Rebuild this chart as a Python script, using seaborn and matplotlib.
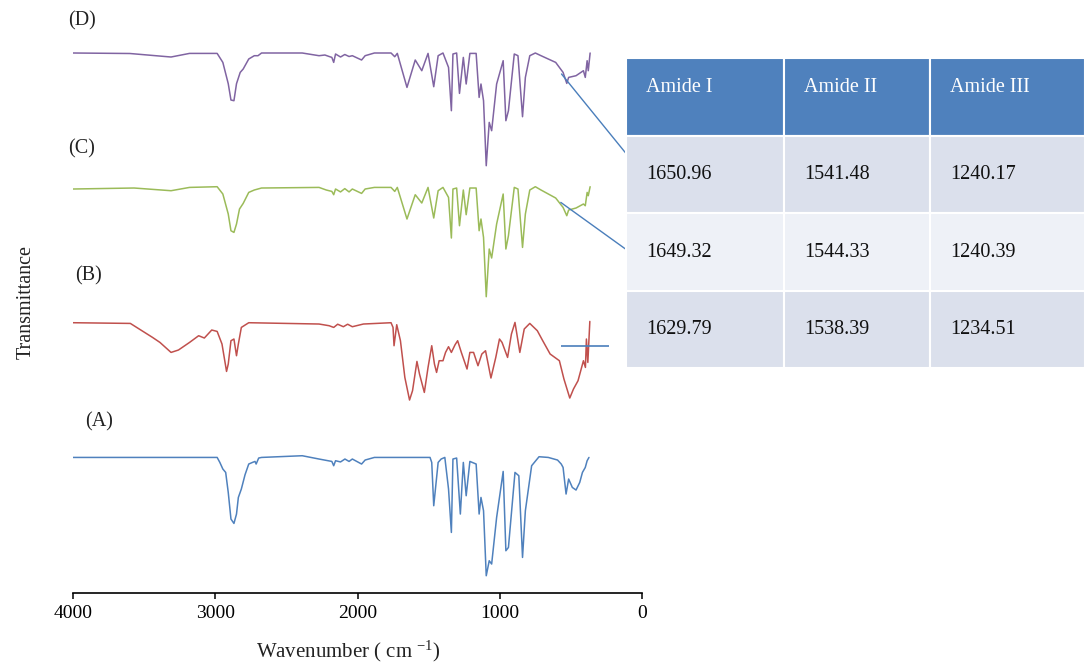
import numpy as np
import matplotlib.pyplot as plt
import seaborn as sns

# FTIR spectra, wavenumber (cm-1) and transmittance (a.u., baseline ~150)
wn_d = [4000, 3600, 3337, 3311, 3181, 2987, 2947, 2909, 2890, 2869, 2851, 2825, 2804, 2765, 2726,
        2700, 2675, 2389, 2271, 2230, 2200, 2181, 2168, 2155, 2120, 2090, 2060, 2037, 1972, 1947,
        1882, 1765, 1739, 1721, 1653,
        1595, 1549, 1505, 1465, 1434, 1400, 1361, 1341, 1330, 1304, 1284, 1257, 1237, 1211, 1167,
        1146, 1133, 1115, 1096, 1075, 1058, 1023, 977, 958, 940, 899, 873, 841, 821, 790,
        751, 711, 608, 556, 530, 517, 465, 413, 400, 387, 379, 366]
t_d = [150, 149.5, 146.3, 146, 149.6, 149.6, 140.6, 119.3, 103, 102.3, 119.3, 130.6, 134, 144, 147.3,
       147.3, 150, 150, 147.3, 148, 146.5, 145.6, 140.6, 149, 146, 148.5, 146.5, 147.3, 143, 147.3,
       150, 150, 146.3, 149.6, 115.6,
       143, 132.3, 149.6, 116.3, 147.3, 150, 135.6, 92.3, 149, 150, 109.6, 145.6, 119, 149.6, 149.6,
       105.6, 119, 102.3, 37.3, 80.6, 72.3, 119, 142.3, 82.3, 92.3, 149, 147.3, 86.3, 125.6, 147.3,
       150, 147.3, 140.6, 130.6, 119.6, 125.6, 127.3, 132.3, 125.6, 142.3, 132.3, 150]

wn_c = [4000, 3571, 3311, 3181, 2987, 2947, 2909, 2890, 2869, 2851, 2830, 2804, 2765, 2726, 2675,
        2271, 2220, 2181, 2168, 2155, 2120, 2090, 2060, 2037, 1972, 1947, 1882, 1765, 1739, 1721,
        1653, 1595, 1549,
        1505, 1465, 1434, 1400, 1361, 1341, 1330, 1304, 1284, 1257, 1237, 1211, 1167, 1146, 1133,
        1115, 1096, 1075, 1058, 1023, 977, 958, 940, 899, 873, 841, 821, 790, 751, 711,
        608, 556, 530, 517, 465, 413, 400, 387, 379, 366]
t_c = [148.4, 149.4, 146.7, 150, 150.7, 143.4, 123.4, 106.7, 105, 113.4, 128.4, 134, 145, 147.4, 149.4,
       150, 147.4, 146, 142.7, 148.4, 145.5, 148.8, 145.5, 148.4, 144, 148.4, 150, 150, 146, 150,
       118.4, 142.7, 134.4,
       150, 119.4, 146.7, 150, 140, 99.4, 148.4, 149.4, 111.7, 147.4, 122.7, 149.4, 149.4, 106.7, 118.4,
       100, 40.7, 88.4, 79.4, 113.4, 143.4, 88.4, 101.7, 150, 148.4, 90, 123.4, 147.4, 150.7, 147.4,
       139.4, 130, 121.7, 127.4, 129.4, 133.4, 131.7, 145, 141.7, 150.7]

wn_b = [4000, 3597, 3441, 3389, 3311, 3259, 3181, 3117, 3077, 3025, 2987, 2953, 2921, 2909, 2890,
        2869, 2851, 2838, 2817, 2765, 2271, 2200, 2168, 2140, 2100, 2070, 2037, 1959, 1765, 1751,
        1744, 1725, 1699, 1668,
        1635, 1614, 1583, 1565, 1531, 1505, 1479, 1460, 1445, 1427, 1400, 1382, 1361, 1341, 1315,
        1297, 1271, 1231, 1211, 1185, 1154, 1127, 1101, 1063, 1029, 1003, 985, 946, 919, 894,
        860, 829, 790, 737, 699, 647, 582, 550, 509, 483, 451, 413, 399, 392, 382, 368]
t_b = [150, 149.3, 135.3, 130.3, 120.3, 122.7, 130.3, 137, 134.7, 142.7, 141.3, 128.7, 101.3, 108.7, 132,
       133.7, 117, 128.7, 145.3, 150, 148.7, 147, 145.3, 148.5, 146, 148.5, 146, 148.7, 150, 145.3,
       127, 148, 132, 95.3,
       72.7, 82, 111.3, 98.7, 80.3, 105.3, 127, 108.7, 100.3, 112, 112, 120.3, 126, 120.3, 128,
       132, 120.3, 103.7, 120.3, 120.3, 107, 118.7, 122, 94.7, 115.3, 133.7, 130.3, 115.3, 138.7, 150.3,
       120.3, 143.7, 149.3, 142, 132, 118.7, 112, 93.7, 74.7, 83.7, 92, 112, 105.3, 133.7, 110.3, 151.3]

wn_a = [4000, 2987, 2968, 2947, 2927, 2909, 2890, 2869, 2851, 2838, 2817, 2791, 2765, 2739, 2721,
        2713, 2695, 2675, 2389, 2271, 2181, 2168, 2155, 2120, 2089, 2060, 2037, 1972, 1947, 1882,
        1491, 1479,
        1465, 1453, 1434, 1413, 1387, 1361, 1341, 1330, 1304, 1278, 1257, 1237, 1211, 1167, 1146,
        1133, 1115, 1096, 1075, 1058, 1023, 977, 958, 940, 894, 867, 841, 821, 777, 725,
        660, 595, 569, 556, 535, 517, 491, 465, 439, 420, 400, 387, 374]
t_a = [150, 150, 145, 138.4, 135, 115, 88.4, 84, 93.4, 110, 118.4, 132.7, 143.4, 145, 146,
       143.4, 149.4, 150, 151.7, 148.4, 146, 141.7, 146.7, 145.5, 148.4, 146, 148.4, 143.4, 147.4, 150,
       150, 145,
       101.7, 118.4, 145, 148.4, 150, 118.4, 75, 148.4, 149.4, 93.4, 145, 111.7, 146, 143.4, 93.4,
       110, 96.7, 31.7, 46.7, 43.4, 90, 136, 56.7, 60, 135, 131.7, 50, 96.7, 141.7, 150.7,
       150, 147.4, 143.4, 140, 113.4, 128.4, 120, 117.4, 125, 135, 140, 146.7, 150]

labels = ["(D)", "(C)", "(B)", "(A)"]
colores = ["#8064a2", "#9bbb59", "#c0504d", "#4f81bd"]
offsets = [389.7, 255.3, 120.0, -14.7]

# Tabla de bandas amida
headers = ["Amide I", "Amide II", "Amide III"]
amide_rows = [["1650.96", "1541.48", "1240.17"],
              ["1649.32", "1544.33", "1240.39"],
              ["1629.79", "1538.39", "1234.51"]]

sns.set_theme(style="white")
plt.rcParams["font.family"] = ["Liberation Serif", "DejaVu Serif"]
plt.rcParams["mathtext.fontset"] = "custom"
plt.rcParams["mathtext.rm"] = "Liberation Serif"
plt.rcParams["mathtext.it"] = "Liberation Serif:italic"

fig = plt.figure(figsize=(10.85, 6.66), dpi=100)
ax = fig.add_axes([73 / 1085, 0.110, 569.2 / 1085, 0.890])

spectra = [(wn_d, t_d), (wn_c, t_c), (wn_b, t_b), (wn_a, t_a)]
for (wn, t), color, off in zip(spectra, colores, offsets):
    sns.lineplot(x=np.array(wn), y=np.array(t) + off, ax=ax, color=color,
                 linewidth=1.1, sort=False, estimator=None)

ax.set_xlim(4000, 0)
ax.set_ylim(0, 592.7)

# etiquetas de cada espectro
label_pos = [(4035, 572), (4035, 444), (3982, 317), (3914, 171)]
for lab, (lx, ly) in zip(labels, label_pos):
    ax.text(lx, ly, lab, fontsize=14.5, ha="left", va="center", color="#222222")

# conectores hacia la tabla
line_col = "#4a7ebb"
ax.annotate("", xy=(567, 518.7), xycoords="data",
            xytext=(625.9 / 1085, 1 - 153.3 / 666), textcoords="figure fraction",
            arrowprops=dict(arrowstyle="-", color=line_col, lw=1.0, shrinkA=0, shrinkB=0),
            annotation_clip=False)
ax.annotate("", xy=(572, 390.3), xycoords="data",
            xytext=(625.9 / 1085, 1 - 249.3 / 666), textcoords="figure fraction",
            arrowprops=dict(arrowstyle="-", color=line_col, lw=1.0, shrinkA=0, shrinkB=0),
            annotation_clip=False)
ax.hlines(246.7, 572, 230, color=line_col, lw=1.2, zorder=5)

ax.set_xticks([4000, 3000, 2000, 1000, 0])
ax.set_yticks([])
ax.tick_params(axis="x", direction="out", length=4.5, width=1.1, pad=4,
               labelsize=14, colors="black", bottom=True)
sns.despine(ax=ax, left=True)
ax.spines["bottom"].set_color("black")
ax.spines["bottom"].set_linewidth(1.2)

ax.set_xlabel("Wavenumber ( cm $^{-1}$)", fontsize=15, color="#222222")
ax.xaxis.set_label_coords(0.483, -0.077)
ax.set_ylabel("Transmittance", fontsize=14.5, color="#222222")
ax.yaxis.set_label_coords(-0.066, 0.49)

# tabla
tax = fig.add_axes([626 / 1085, (666 - 368.3) / 666, 459 / 1085, 310 / 666])
tax.axis("off")
col_px = [158.4, 145.9, 154.7]
tbl = tax.table(cellText=amide_rows, colLabels=headers,
                colWidths=[w / sum(col_px) for w in col_px],
                bbox=[0, 0, 1, 1], cellLoc="left", colLoc="left")
tbl.auto_set_font_size(False)
tbl.set_fontsize(14.5)
for (r, c), cell in tbl.get_celld().items():
    cell.set_edgecolor("white")
    cell.set_linewidth(1.5)
    cell.PAD = 20 / col_px[c]
    txt = cell.get_text()
    if r == 0:
        cell.set_facecolor("#4f81bd")
        txt.set_color("white")
        txt.set_va("bottom")
    elif r == 2:
        cell.set_facecolor("#eef1f7")
        txt.set_color("#111111")
    else:
        cell.set_facecolor("#dbe0ec")
        txt.set_color("#111111")

fig.savefig("out.png", dpi=100)
